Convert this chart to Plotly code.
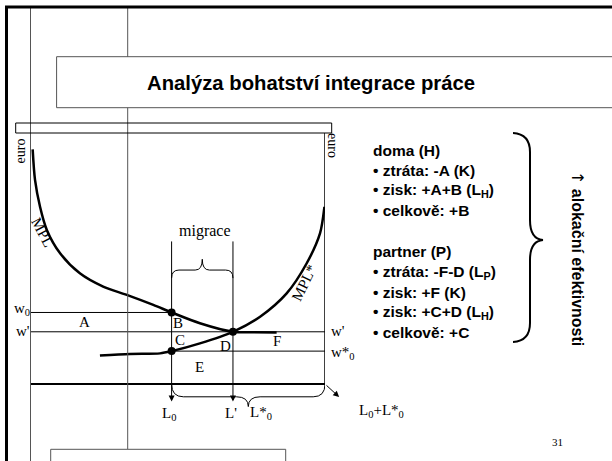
import plotly.graph_objects as go

# diagram data (labour on x, wage in euro on y, both 0-100)
mpl_x = [0.9, 1.7, 3.4, 5.7, 10.2, 16.9, 24.8, 32.8, 41.8, 48.0, 57.6, 68.8, 75.6, 83.6]
mpl_y = [93.5, 81.3, 70.6, 61.4, 52.1, 44.1, 38.8, 35.5, 31.5, 28.5, 24.2, 20.8, 20.6, 20.5]
mpl_star_x = [23.7, 33.9, 44.1, 48.0, 57.6, 68.8, 78.0, 87.0, 93.8, 98.3, 99.8]
mpl_star_y = [11.4, 12.0, 12.2, 13.1, 16.2, 20.8, 26.8, 36.1, 48.1, 60.0, 70.6]

L0 = 48.0        # home labour before migration
L_eq = 68.8      # L' after migration
L_total = 100.0  # L0 + L*0
w0 = 28.5
w_eq = 20.8
w_star0 = 13.1

point_x = [L0, L0, L_eq]
point_y = [w0, w_star0, w_eq]

area_labels = ["A", "B", "C", "D", "E", "F"]
area_x = [18.6, 50.2, 50.8, 66.1, 57.6, 83.6]
area_y = [24.8, 24.3, 17.5, 15.3, 6.9, 17.3]

title = "Analýza bohatství integrace práce"
panel_lines = [
    "doma (H)",
    "• ztráta: -A (K)",
    "• zisk: +A+B (L<sub>H</sub>)",
    "• celkově: +B",
    "partner (P)",
    "• ztráta: -F-D (L<sub>P</sub>)",
    "• zisk: +F (K)",
    "• zisk: +C+D (L<sub>H</sub>)",
    "• celkově: +C",
]
panel_y = [150, 170.5, 190.5, 210.5, 251.5, 272, 292.5, 312.5, 332]
side_text = "<span style='font-family:DejaVu Sans;font-weight:normal'>↑</span> alokační efektivnosti"
page_no = "31"

SERIF = "Liberation Serif, Times New Roman, serif"
SANS = "Liberation Sans, Arial, sans-serif"
W, H = 612, 461

fig = go.Figure()

fig.add_trace(go.Scatter(x=mpl_x, y=mpl_y, mode="lines",
                         line=dict(color="black", width=2.5, shape="spline", smoothing=0.8),
                         hoverinfo="skip"))
fig.add_trace(go.Scatter(x=mpl_star_x, y=mpl_star_y, mode="lines",
                         line=dict(color="black", width=2.5, shape="spline", smoothing=0.8),
                         hoverinfo="skip"))
fig.add_trace(go.Scatter(x=point_x, y=point_y, mode="markers",
                         marker=dict(color="black", size=8), hoverinfo="skip"))

shapes = []


# page decoration in pixel coords (x2/y2)
def pline(x0, y0, x1, y1, w=1, c="#555"):
    shapes.append(dict(type="line", xref="x2", yref="y2", x0=x0, y0=y0, x1=x1, y1=y1,
                       line=dict(color=c, width=w), layer="below"))


def prect(x0, y0, x1, y1, c="#555", fill="white"):
    shapes.append(dict(type="rect", xref="x2", yref="y2", x0=x0, y0=y0, x1=x1, y1=y1,
                       line=dict(color=c, width=1), fillcolor=fill, layer="below"))


pline(30.5, 7, 30.5, 461)
pline(127.7, 7, 127.7, 449)
prect(56.6, 56.7, 640, 107.7)
prect(50.7, 449.3, 285.7, 480)
pline(5, 7, 612, 7, w=3, c="black")
pline(6.5, 7, 6.5, 461, w=3, c="black")
shapes.append(dict(type="rect", xref="x2", yref="y2", x0=15.7, y0=123, x1=331.7, y1=133,
                   line=dict(color="black", width=1), fillcolor="rgba(0,0,0,0)", layer="above"))

# right curly brace
shapes.append(dict(type="path", xref="x2", yref="y2", layer="above",
                   path="M 513,133 Q 530,134 530,152 L 530,220 Q 530,239 543,240 "
                        "Q 530,241 530,260 L 530,323 Q 530,341 513,342",
                   line=dict(color="black", width=2)))


# diagram frame and guide lines in data coords
def dline(x0, y0, x1, y1, w=1):
    shapes.append(dict(type="line", xref="x", yref="y", x0=x0, y0=y0, x1=x1, y1=y1,
                       line=dict(color="black", width=w), layer="below"))


dline(0, 0, 0, 100, 2)
dline(L_total, 0, L_total, 100, 1.5)
dline(0, 0, L_total, 0, 2)
dline(0, w0, L0, w0)
dline(0, w_eq, L_total, w_eq)
dline(L0, w_star0, L_total, w_star0)

# migration brace and bottom brace
shapes.append(dict(type="path", xref="x", yref="y",
                   path="M 48,42.2 Q 48,45.4 50.5,45.4 L 56,45.4 Q 58.4,45.4 58.4,49.7 "
                        "Q 58.4,45.4 60.8,45.4 L 66.3,45.4 Q 68.8,45.4 68.8,42.2",
                   line=dict(color="black", width=1)))
shapes.append(dict(type="path", xref="x", yref="y",
                   path="M 48,0 Q 48,-5.1 52,-5.1 L 70,-5.1 Q 74,-5.1 74,-9 "
                        "Q 74,-5.1 78,-5.1 L 96,-5.1 Q 100,-5.1 100,0",
                   line=dict(color="black", width=1)))

ann = []


def arrow(x, y, ax, ay):
    ann.append(dict(x=x, y=y, ax=ax, ay=ay, xref="x", yref="y", axref="x", ayref="y",
                    text="", showarrow=True, arrowhead=2, arrowsize=1.2, arrowwidth=1,
                    arrowcolor="black"))


arrow(L0, -7, L0, 57.4)
arrow(L_eq, -7, L_eq, 57.4)
arrow(104.8, -5.2, L_total, 0)


def dtext(x, y, t, size=15, angle=0):
    ann.append(dict(x=x, y=y, xref="x", yref="y", text=t, showarrow=False, textangle=angle,
                    font=dict(family=SERIF, size=size, color="black")))


def ptext(x, y, t, size=15, family=SERIF, angle=0, xanchor="center", bold=False):
    ann.append(dict(x=x, y=y, xref="x2", yref="y2", text=t, showarrow=False,
                    textangle=angle, xanchor=xanchor, yanchor="middle",
                    font=dict(family=family, size=size, color="black",
                              weight="bold" if bold else "normal")))


for lab, x, y in zip(area_labels, area_x, area_y):
    dtext(x, y, lab)

dtext(4.1, 60.5, "MPL", angle=62)
dtext(92.9, 40.3, "MPL*", angle=-64)

ptext(205, 230.7, "migrace", size=16)
ptext(20, 151.5, "euro", angle=-90, size=14)
ptext(333, 145, "euro", angle=90, size=14)
ptext(21.5, 309, "w<sub>0</sub>")
ptext(22.5, 331, "w'")
ptext(338, 331, "w'")
ptext(342.5, 353, "w*<sub>0</sub>")
ptext(169, 414, "L<sub>0</sub>")
ptext(231, 413, "L'")
ptext(261, 413, "L*<sub>0</sub>")
ptext(381, 410.5, "L<sub>0</sub>+L*<sub>0</sub>")
ptext(557, 441.7, page_no, size=11)

ptext(310.5, 83, title, size=20.3, family=SANS, bold=True)
for t, y in zip(panel_lines, panel_y):
    ptext(371, y, t, size=15.5, family=SANS, xanchor="left", bold=True)
ptext(578, 258, side_text, size=16, family=SANS, angle=90, bold=True)

# y axis extends below 0 so the brace under the frame is not clipped
y_lo = -12
fig.update_layout(
    width=W, height=H,
    margin=dict(l=0, r=0, t=0, b=0),
    paper_bgcolor="white", plot_bgcolor="rgba(0,0,0,0)",
    showlegend=False,
    xaxis=dict(domain=[30 / W, 325 / W], range=[0, 100], visible=False),
    yaxis=dict(domain=[1 - (384 - y_lo * 2.51) / H, 1 - 133 / H], range=[y_lo, 100], visible=False),
    xaxis2=dict(domain=[0, 1], range=[0, W], visible=False, anchor="y2"),
    yaxis2=dict(domain=[0, 1], range=[H, 0], visible=False, anchor="x2"),
    shapes=shapes,
    annotations=ann,
)

# page body has a default 8px margin; drop it so the slide sits at the window corner
fig.write_html("out.html", config={"displayModeBar": False},
               post_script="document.body.style.margin='0';document.body.style.overflow='hidden';")
